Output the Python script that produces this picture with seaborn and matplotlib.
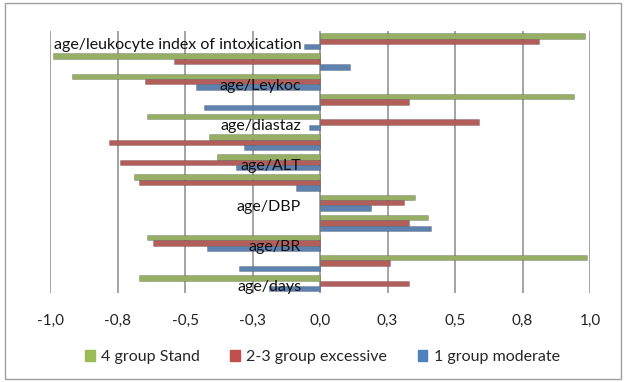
import pandas as pd
import seaborn as sns
import matplotlib.pyplot as plt
from matplotlib.patches import Rectangle

# categories, top to bottom (only every second one carries a label)
rows = list(range(13))
row_labels = ["age/leukocyte index of intoxication", "", "age/Leykoc", "",
              "age/diastaz", "", "age/ALT", "", "age/DBP", "", "age/BR", "",
              "age/days"]

stand = [0.98, -0.99, -0.92, 0.94, -0.64, -0.41, -0.38, -0.69, 0.35, 0.40,
         -0.64, 0.99, -0.67]
excessive = [0.81, -0.54, -0.65, 0.33, 0.59, -0.78, -0.74, -0.67, 0.31, 0.33,
             -0.62, 0.26, 0.33]
moderate = [-0.06, 0.11, -0.46, -0.43, -0.04, -0.28, -0.31, -0.09, 0.19, 0.41,
            -0.42, -0.30, -0.19]

series = ["4 group Stand", "2-3 group excessive", "1 group moderate"]
colors = ["#9BBB59", "#C0504D", "#4F81BD"]

xticks = [-1, -0.75, -0.5, -0.25, 0, 0.25, 0.5, 0.75, 1]
xtick_labels = ["-1,0", "-0,8", "-0,5", "-0,3", "0,0", "0,3", "0,5", "0,8", "1,0"]

sns.set_theme(style="white")
plt.rcParams['font.family'] = ['Lato', 'DejaVu Sans']

df = pd.DataFrame({
    "row": rows * 3,
    "value": stand + excessive + moderate,
    "series": [series[0]] * 13 + [series[1]] * 13 + [series[2]] * 13,
})

fig = plt.figure(figsize=(6.26, 3.82), dpi=100)
ax = fig.add_axes([0.08, 0.232, 0.8625, 0.686])

for x in xticks:
    ax.axvline(x, color="#8c8c8c", lw=1.1, zorder=0)

sns.barplot(data=df, x="value", y="row", hue="series", orient="h",
            hue_order=series, palette=colors, width=0.8, ax=ax,
            edgecolor="#00000033", linewidth=0.6, zorder=2, legend=False)

ax.set_xlim(-1.0, 1.0)
ax.set_ylim(12.5, -0.5)
ax.set_xticks(xticks)
ax.set_xticklabels(xtick_labels, fontsize=11, color="#222222")
ax.tick_params(axis="x", length=0, pad=15)
ax.set_yticks([])
ax.set_xlabel("")
ax.set_ylabel("")
for s in ax.spines.values():
    s.set_visible(False)

for r, lab in zip(rows, row_labels):
    if lab:
        ax.text(-0.07, r + 0.2, lab, ha="right", va="center", fontsize=11.5,
                color="#111111", zorder=3)

handles = [Rectangle((0, 0), 1, 1, color=c) for c in colors]
fig.legend(handles, series, loc="center", bbox_to_anchor=(0.515, 0.065),
           ncol=3, frameon=False, fontsize=11.5, handlelength=0.6,
           handleheight=0.6, handletextpad=0.4, columnspacing=1.9)

fig.patches.append(Rectangle((0.008, 0.008), 0.984, 0.984,
                             transform=fig.transFigure, fill=False,
                             edgecolor="#a0a0a0", lw=1))

fig.savefig("out.png", dpi=100)
